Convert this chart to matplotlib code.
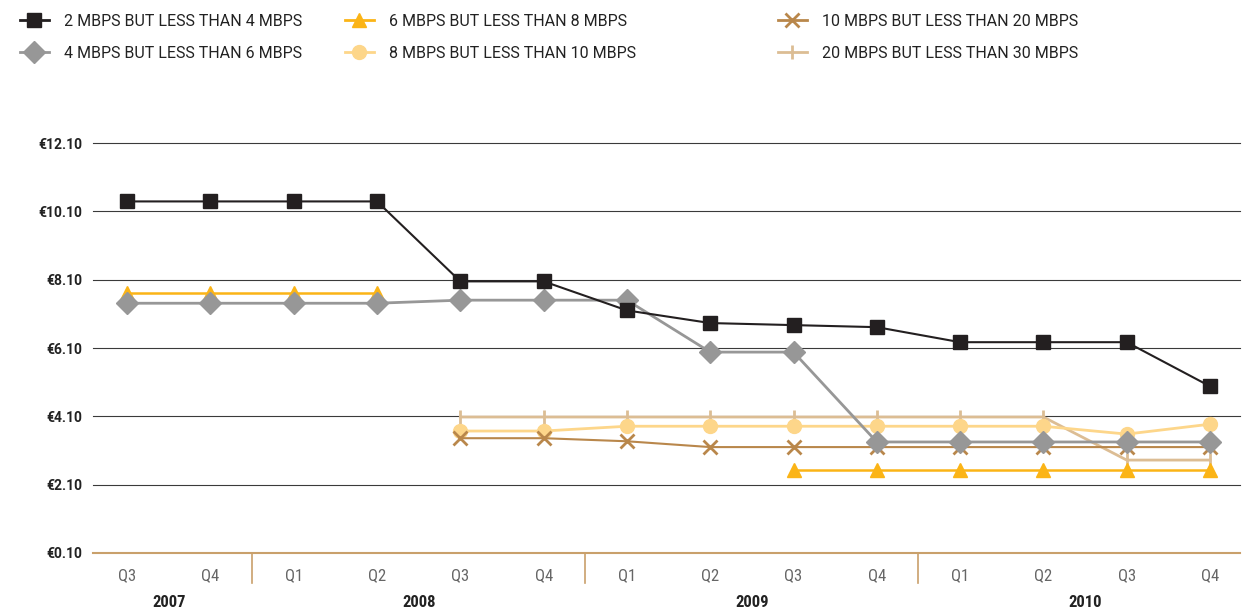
"""Broadband price per Mbps by speed band, quarterly 2007-2010."""
import matplotlib
matplotlib.use("Agg")
import matplotlib.pyplot as plt
from matplotlib.lines import Line2D
import numpy as np

quarters = ["Q3", "Q4", "Q1", "Q2", "Q3", "Q4", "Q1", "Q2", "Q3", "Q4", "Q1", "Q2", "Q3", "Q4"]
years = ["2007", "2008", "2009", "2010"]
year_spans = [(0, 1), (2, 5), (6, 9), (10, 13)]

nan = np.nan
band_2_4 = [10.39, 10.39, 10.39, 10.39, 8.05, 8.05, 7.20, 6.83, 6.77, 6.71, 6.27, 6.27, 6.27, 4.98]
band_4_6 = [7.41, 7.41, 7.41, 7.41, 7.50, 7.50, 7.50, 5.98, 5.98, 3.35, 3.35, 3.35, 3.35, 3.35]
band_6_8 = [7.70, 7.70, 7.70, 7.70, nan, nan, nan, nan, 2.53, 2.53, 2.53, 2.53, 2.53, 2.53]
band_8_10 = [nan, nan, nan, nan, 3.67, 3.67, 3.81, 3.81, 3.81, 3.81, 3.81, 3.81, 3.58, 3.87]
band_10_20 = [nan, nan, nan, nan, 3.46, 3.46, 3.37, 3.20, 3.20, 3.20, 3.20, 3.20, 3.20, 3.20]
band_20_30 = [nan, nan, nan, nan, 4.08, 4.08, 4.08, 4.08, 4.08, 4.08, 4.08, 4.08, 2.82, 2.82]

labels = [
    "2 MBPS BUT LESS THAN 4 MBPS", "4 MBPS BUT LESS THAN 6 MBPS",
    "6 MBPS BUT LESS THAN 8 MBPS", "8 MBPS BUT LESS THAN 10 MBPS",
    "10 MBPS BUT LESS THAN 20 MBPS", "20 MBPS BUT LESS THAN 30 MBPS",
]
yticks = [0.10, 2.10, 4.10, 6.10, 8.10, 10.10, 12.10]

GOLD = "#c9a06b"
# drawing order: back to front
series = [
    (band_20_30, "#dcbd94", "|", 10, 2.0, 2.0),
    (band_8_10, "#fdd68a", "o", 10, 2.0, 1.0),
    (band_10_20, "#b9874b", "x", 10, 1.5, 2.0),
    (band_6_8, "#fbb416", "^", 10, 1.8, 1.0),
    (band_4_6, "#979797", "D", 11, 2.0, 1.0),
    (band_2_4, "#231f20", "s", 10, 1.5, 1.0),
]

plt.rcParams["font.family"] = ["Roboto", "DejaVu Sans"]
narrow = ["Liberation Sans Narrow", "Roboto Condensed", "DejaVu Sans"]

fig = plt.figure(figsize=(12.46, 6.09), dpi=100)
ax = fig.add_axes([93 / 1246, 1 - 553 / 609, (1240 - 93) / 1246, 410 / 609])

x = np.arange(len(quarters))
for y in yticks[1:]:
    ax.axhline(y, color="#3a3a3a", lw=0.8, zorder=1, clip_on=False)

for vals, col, mk, ms, lw, mew in series:
    ax.plot(x, vals, color=col, lw=lw, marker=mk, ms=ms,
            mew=mew, mec=col, mfc=col, zorder=3, clip_on=False)

# legend handles in reading order
order = [band_2_4, band_4_6, band_6_8, band_8_10, band_10_20, band_20_30]
leg_handles = []
for vals in order:
    for v, col, mk, ms, lw, mew in series:
        if v is vals:
            leg_handles.append(Line2D([], [], color=col, lw=2, marker=mk, ms=ms,
                                      mew=mew, mec=col, mfc=col))

ax.set_xlim(-0.41, 13.36)
ax.set_ylim(0.10, 12.10)
for s in ["top", "right", "left"]:
    ax.spines[s].set_visible(False)
ax.spines["bottom"].set_color(GOLD)
ax.spines["bottom"].set_linewidth(1.5)

ax.set_yticks(yticks)
ax.set_yticklabels([f"€{v:.2f}" for v in yticks], fontsize=10, fontweight="bold",
                   color="#222222")
ax.tick_params(axis="y", length=0, pad=8)
ax.set_xticks(x)
ax.set_xticklabels(quarters, fontsize=12, color="#666666", family=narrow)
ax.tick_params(axis="x", length=0, pad=11)

trans = ax.get_xaxis_transform()
for sep in [1.5, 5.5, 9.5]:
    ax.plot([sep, sep], [0, -0.073], color=GOLD, lw=1.2, transform=trans, clip_on=False)
for yr, (a, b) in zip(years, year_spans):
    ax.text((a + b) / 2, -0.12, yr, transform=trans, ha="center", va="center",
            fontsize=12, fontweight="bold", color="#222222", family=narrow)

col_x = [20, 345, 778]
for i, cx in enumerate(col_x):
    fig.legend(handles=leg_handles[2 * i:2 * i + 2], labels=labels[2 * i:2 * i + 2],
               loc="upper left", bbox_to_anchor=(cx / 1246, 1 - 14 / 609),
               frameon=False, fontsize=11.5, handlelength=1.8, handletextpad=0.95,
               labelspacing=1.05, borderpad=0, borderaxespad=0, labelcolor="#222222")

fig.savefig("out.png", dpi=100)
